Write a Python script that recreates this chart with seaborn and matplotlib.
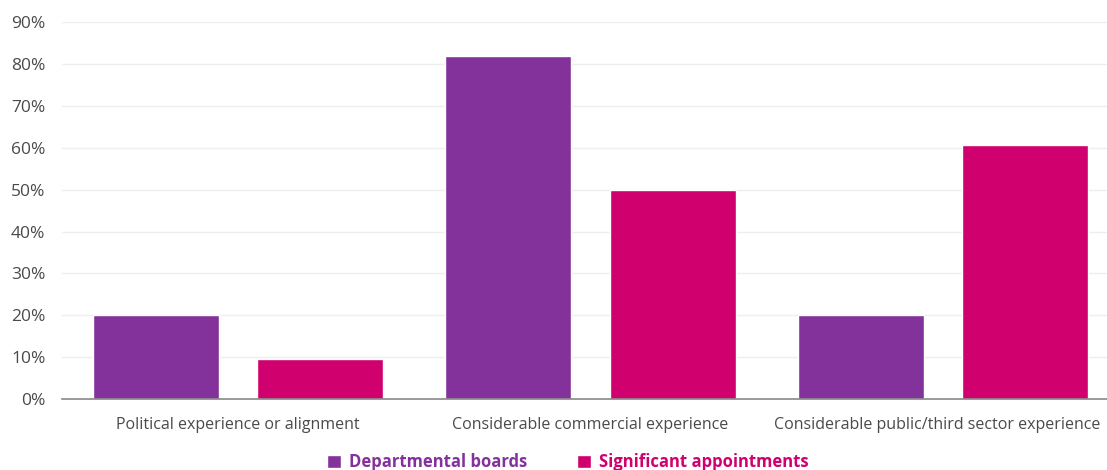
import pandas as pd
import matplotlib
matplotlib.use('Agg')
import matplotlib.pyplot as plt
import matplotlib.transforms as mtransforms
import seaborn as sns
from matplotlib.ticker import FuncFormatter

categories = ['Political experience or alignment',
              'Considerable commercial experience',
              'Considerable public/third sector experience']
series = ['Departmental boards', 'Significant appointments']
departmental_boards = [20, 82, 20]
significant_appointments = [9.5, 50, 60.6]
colours = ['#84329B', '#D0006F']

df = pd.DataFrame({
    'category': categories * 2,
    'value': departmental_boards + significant_appointments,
    'series': [series[0]] * 3 + [series[1]] * 3,
})

sns.set_style('white')
plt.rcParams['font.family'] = ['Open Sans', 'DejaVu Sans']

fig = plt.figure(figsize=(11.07, 4.70), dpi=100)
ax = fig.add_axes([0.056, 0.151, 0.944, 0.802])

sns.barplot(ax=ax, data=df, x='category', y='value', hue='series',
            palette=colours, width=0.933, gap=0.235, saturation=1,
            errorbar=None, legend=True)

ax.set_ylim(0, 90)
ax.set_xlim(-0.5, 2.466)
ax.set_yticks(range(0, 91, 10))
ax.yaxis.set_major_formatter(FuncFormatter(lambda v, p: f'{int(v)}%'))
ax.grid(axis='y', color='#eeeeee', linewidth=1)
ax.set_axisbelow(True)
ax.tick_params(axis='both', length=0, colors='#4a4a4a')
ax.tick_params(axis='x', pad=13, labelsize=11.5)
ax.tick_params(axis='y', pad=12, labelsize=12.5)
ax.set_xlabel('')
ax.set_ylabel('')
for s in ['top', 'right', 'left']:
    ax.spines[s].set_visible(False)
ax.spines['bottom'].set_color('#888888')
ax.spines['bottom'].set_linewidth(1.2)

# nudge last category label left so it stays inside the figure
last = ax.get_xticklabels()[-1]
last.set_transform(last.get_transform() +
                   mtransforms.ScaledTranslation(-6 / 100, 0, fig.dpi_scale_trans))

handles, labels = ax.get_legend_handles_labels()
ax.get_legend().remove()
leg = fig.legend(handles, labels, loc='center', bbox_to_anchor=(0.513, 0.017),
                 ncol=2, frameon=False, handlelength=0.8, handleheight=0.8,
                 handletextpad=0.5, columnspacing=3,
                 prop={'weight': 'bold', 'size': 12})
for t, c in zip(leg.get_texts(), colours):
    t.set_color(c)

fig.savefig('out.png', dpi=100)
